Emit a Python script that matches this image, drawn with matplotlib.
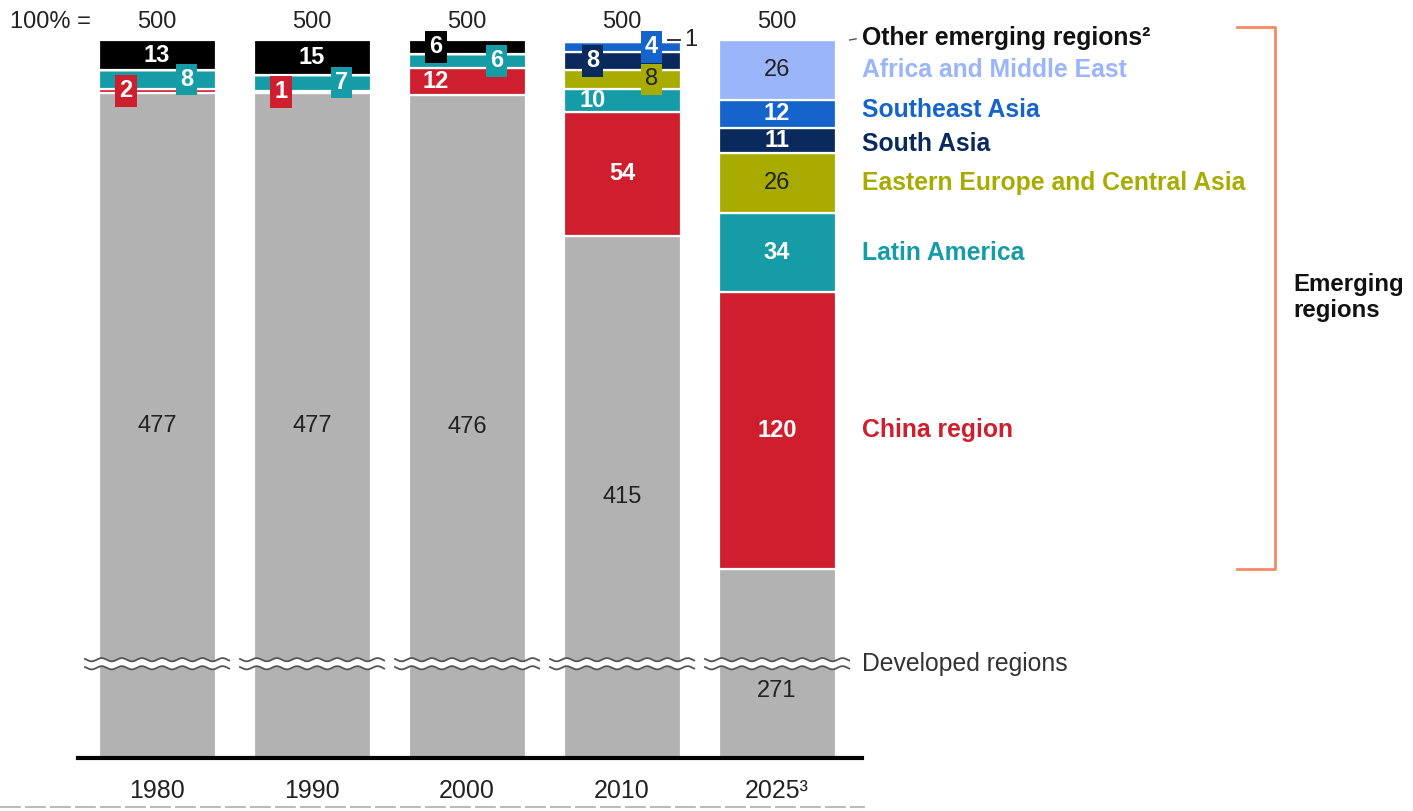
import matplotlib
matplotlib.use('Agg')
import matplotlib.pyplot as plt
from matplotlib.lines import Line2D
import numpy as np

plt.rcParams['font.family'] = ['Liberation Sans', 'DejaVu Sans']

# data (number of cities among the top 500 by GDP)
years = ['1980', '1990', '2000', '2010', '2025³']
totals = [500, 500, 500, 500, 500]
developed = [477, 477, 476, 415, 271]
china = [2, 1, 12, 54, 120]
latin_america = [8, 7, 6, 10, 34]
eastern_europe = [0, 0, 0, 8, 26]
south_asia = [0, 0, 0, 8, 11]
southeast_asia = [0, 0, 0, 4, 12]
africa_me = [0, 0, 0, 0, 26]
other = [13, 15, 6, 1, 0]

names = ['Developed regions', 'China region', 'Latin America',
         'Eastern Europe and Central Asia', 'South Asia', 'Southeast Asia',
         'Africa and Middle East', 'Other emerging regions²']
series = [developed, china, latin_america, eastern_europe, south_asia,
          southeast_asia, africa_me, other]
colors = ['#B2B2B2', '#CF1F2E', '#159CA6', '#A9AC00', '#0A2A5E',
          '#1464CC', '#9AB5FA', '#000000']
txt_dark = '#222222'
dark_on = {0, 3, 6}  # segments that get dark numbers

# label placement: (bar, segment) -> (x offset, boxed)
lab_pos = {
    (0, 1): (-0.2, True), (0, 2): (0.19, True),
    (1, 1): (-0.2, True), (1, 2): (0.19, True),
    (2, 7): (-0.2, True), (2, 2): (0.19, True), (2, 1): (-0.2, False),
    (3, 5): (0.19, True), (3, 4): (-0.19, True), (3, 3): (0.19, True),
    (3, 2): (-0.19, False),
}
# nudges for the region names on the right (data units)
name_dy = {5: 1.6, 4: -1.6}

Y_LOW = 189.2
BREAK_Y = 230
FS_NUM = 17
FS_NAME = 17.8

fig = plt.figure(figsize=(14.13, 8.11), dpi=100)
ax = fig.add_axes([78 / 1413, 53 / 811, 784 / 1413, 718 / 811])
ax.set_xlim(-0.51, 4.548)
ax.set_ylim(Y_LOW, 500)

x = np.arange(len(years))
width = 0.755
bottom = np.zeros(len(years))
for k, (vals, col) in enumerate(zip(series, colors)):
    vals = np.array(vals, dtype=float)
    ax.bar(x, vals, width, bottom=bottom, color=col, edgecolor='white',
           linewidth=1.6, zorder=2)
    for i in range(len(years)):
        v = vals[i]
        if v == 0:
            continue
        if k == 0:
            yc = (Y_LOW + v) / 2
            if yc < BREAK_Y + 10:
                yc = 218
            ax.text(x[i], yc, f'{int(v)}', ha='center', va='center',
                    fontsize=FS_NUM, color=txt_dark, zorder=5)
            continue
        if k == 7 and i == 3:
            # tiny "other" segment in 2010, labelled outside the bar
            ax.plot([3.297, 3.374], [bottom[i] + v / 2 + 0.3] * 2,
                    color=txt_dark, lw=1.3, clip_on=False, zorder=5)
            ax.text(3.40, bottom[i] + v / 2 + 0.3, '1', ha='left',
                    va='center', fontsize=FS_NUM, color=txt_dark, zorder=5)
            continue
        yc = bottom[i] + v / 2
        dx, boxed = lab_pos.get((i, k), (0, False))
        dark = k in dark_on
        kw = {}
        if boxed:
            kw['bbox'] = dict(boxstyle='square,pad=0.18', fc=col, ec='none')
        ax.text(x[i] + dx, yc, f'{int(v)}', ha='center', va='center',
                fontsize=FS_NUM, fontweight='normal' if dark else 'bold',
                color=txt_dark if dark else 'white', zorder=6, **kw)
    bottom += vals

# totals on top
ax.text(-0.95, 507.6, '100% =', ha='left', va='center', fontsize=FS_NUM,
        color=txt_dark, clip_on=False)
for i, t in enumerate(totals):
    ax.text(x[i], 507.6, str(t), ha='center', va='center', fontsize=FS_NUM,
            color=txt_dark, clip_on=False)

# axis break marks
for i in range(len(years)):
    xs = np.linspace(x[i] - 0.465, x[i] + 0.465, 200)
    wave = 0.7 * np.sin(2 * np.pi * (xs - x[i]) / 0.13)
    up = BREAK_Y + 1.75 + wave
    lo = BREAK_Y - 1.75 + wave
    ax.fill_between(xs, lo, up, color='white', zorder=3, lw=0)
    ax.plot(xs, up, color='#555555', lw=1.3, zorder=4)
    ax.plot(xs, lo, color='#555555', lw=1.3, zorder=4)

# region labels at the right
lx = 4.548
last = np.array([s[-1] for s in series], dtype=float)
seg_mid = np.cumsum(last) - last / 2
for k in range(1, 7):
    ax.text(lx, seg_mid[k] + name_dy.get(k, 0), names[k], ha='left',
            va='center', fontsize=FS_NAME, fontweight='bold',
            color=colors[k], clip_on=False)
ax.text(lx, 500.7, names[7], ha='left', va='center', fontsize=FS_NAME,
        fontweight='bold', color='#111111', clip_on=False)
ax.plot([4.468, 4.51], [500.0, 500.5], color='#555555', lw=1,
        clip_on=False)
ax.text(lx, BREAK_Y, names[0], ha='left', va='center', fontsize=FS_NAME,
        color='#333333', clip_on=False)

# bracket for emerging regions
bx0, bx1 = 6.97, 7.215
btop = totals[-1] + 5.6
bbot = developed[-1]
ax.plot([bx0, bx1, bx1, bx0], [btop, btop, bbot, bbot], color='#F58A66',
        lw=2, clip_on=False)
ax.text(7.33, 388.5, 'Emerging\nregions', ha='left', va='center',
        fontsize=17.3, fontweight='bold', color='#111111',
        linespacing=1.2, clip_on=False)

# axes styling
for s in ['top', 'right', 'left']:
    ax.spines[s].set_visible(False)
ax.spines['bottom'].set_linewidth(3)
ax.spines['bottom'].set_color('black')
ax.spines['bottom'].set_zorder(7)
ax.set_yticks([])
ax.set_xticks(x)
ax.set_xticklabels(years, fontsize=18, color=txt_dark)
ax.tick_params(axis='x', length=0, pad=15)

# dashed rule at the bottom
fig.add_artist(Line2D([0, 0.612], [0.005, 0.005], color='#BBBBBB', lw=1.5,
                      linestyle=(0, (10, 2))))

fig.savefig('out.png', dpi=100)
